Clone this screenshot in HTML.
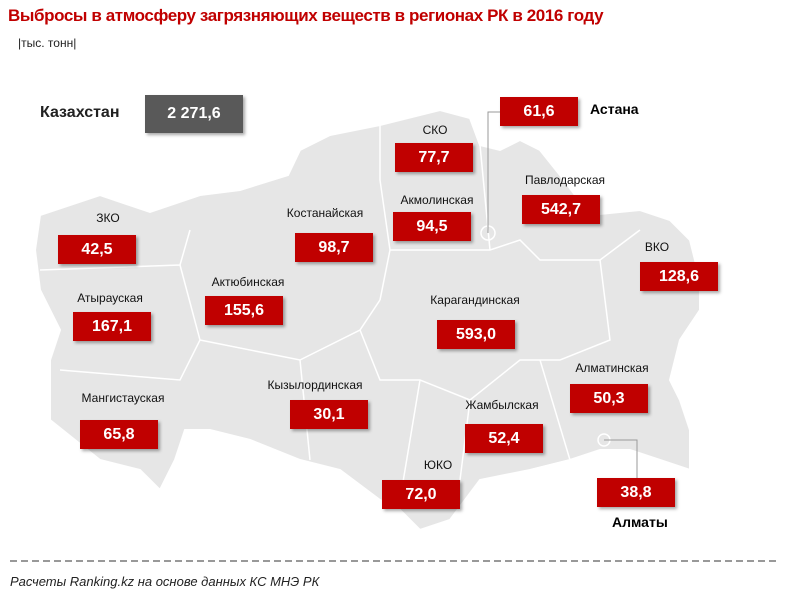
<!DOCTYPE html><html><head><meta charset="utf-8"><style>
body{margin:0;width:800px;height:606px;background:#fff;position:relative;overflow:hidden;font-family:"Liberation Sans",sans-serif}
.t{position:absolute;font-size:12px;color:#111;white-space:nowrap;transform:translateX(-50%)}
.b{position:absolute;width:78px;height:29px;background:#c00000;color:#fff;font-weight:bold;font-size:16px;line-height:29px;text-align:center;box-shadow:2px 2px 3px rgba(0,0,0,.35)}
</style></head><body>
<div style="position:absolute;left:8px;top:6px;color:#c00000;font-weight:bold;font-size:17px;letter-spacing:-0.4px">Выбросы в атмосферу загрязняющих веществ в регионах РК в 2016 году</div>
<div style="position:absolute;left:18px;top:36px;font-size:12px;color:#222">|тыс. тонн|</div>
<svg width="800" height="606" style="position:absolute;left:0;top:0">
<polygon fill="#e6e6e6" stroke="#fff" stroke-width="2" points="40,215 100,195 150,212 200,195 240,190 288,175 300,150 330,135 380,125 440,110 470,118 480,145 500,150 520,140 540,150 560,175 590,215 640,210 670,220 690,240 700,280 700,310 680,340 670,380 680,400 690,430 690,470 660,460 630,450 600,450 570,460 530,470 480,480 450,520 420,530 400,510 380,500 340,470 300,460 250,440 210,430 185,430 175,460 160,490 140,470 100,460 50,420 50,380 50,360 60,330 40,290 35,250"/>
<g stroke="#fff" stroke-width="1.5" fill="none">
<path d="M40,270 L180,265 L190,230"/><path d="M180,265 L200,340 L180,380 L60,370"/><path d="M200,340 L300,360 L360,330 L380,300"/><path d="M300,360 L310,460"/><path d="M380,300 L390,250 L380,180 L380,125"/><path d="M390,250 L490,250 L520,240 L540,260 L600,260 L640,230"/><path d="M600,260 L610,340 L560,360 L520,360 L470,400 L420,380 L380,380 L360,330"/><path d="M470,400 L460,480"/><path d="M420,380 L400,500"/><path d="M490,250 L480,145"/><path d="M540,360 L570,460"/>
</g>
<circle cx="488" cy="233" r="7" fill="none" stroke="#fff" stroke-width="1.5"/>
<circle cx="604" cy="440" r="6" fill="none" stroke="#fff" stroke-width="1.5"/>
<polyline points="488,233 488,112 500,112" fill="none" stroke="#999" stroke-width="1"/>
<polyline points="604,440 637,440 637,478" fill="none" stroke="#999" stroke-width="1"/>
<line x1="10" y1="561" x2="780" y2="561" stroke="#333" stroke-dasharray="7,4" stroke-width="1"/>
</svg>
<div style="position:absolute;left:40px;top:104px;font-weight:bold;font-size:16px;color:#222">Казахстан</div>
<div class="b" style="left:145px;top:95px;width:98px;height:38px;line-height:38px;background:#595959">2 271,6</div>
<div class="b" style="left:500px;top:97px">61,6</div><div style="position:absolute;left:590px;top:101px;font-weight:bold;font-size:14px">Астана</div>
<div class="t" style="left:435px;top:123px">СКО</div><div class="b" style="left:395px;top:143px">77,7</div>
<div class="t" style="left:565px;top:173px">Павлодарская</div><div class="b" style="left:522px;top:195px">542,7</div>
<div class="t" style="left:437px;top:193px">Акмолинская</div><div class="b" style="left:393px;top:212px">94,5</div>
<div class="t" style="left:325px;top:206px">Костанайская</div><div class="b" style="left:295px;top:233px">98,7</div>
<div class="t" style="left:108px;top:211px">ЗКО</div><div class="b" style="left:58px;top:235px">42,5</div>
<div class="t" style="left:657px;top:240px">ВКО</div><div class="b" style="left:640px;top:262px">128,6</div>
<div class="t" style="left:110px;top:291px">Атырауская</div><div class="b" style="left:73px;top:312px">167,1</div>
<div class="t" style="left:248px;top:275px">Актюбинская</div><div class="b" style="left:205px;top:296px">155,6</div>
<div class="t" style="left:475px;top:293px">Карагандинская</div><div class="b" style="left:437px;top:320px">593,0</div>
<div class="t" style="left:612px;top:361px">Алматинская</div><div class="b" style="left:570px;top:384px">50,3</div>
<div class="t" style="left:315px;top:378px">Кызылординская</div><div class="b" style="left:290px;top:400px">30,1</div>
<div class="t" style="left:123px;top:391px">Мангистауская</div><div class="b" style="left:80px;top:420px">65,8</div>
<div class="t" style="left:502px;top:398px">Жамбылская</div><div class="b" style="left:465px;top:424px">52,4</div>
<div class="t" style="left:438px;top:458px">ЮКО</div><div class="b" style="left:382px;top:480px">72,0</div>
<div class="b" style="left:597px;top:478px">38,8</div><div style="position:absolute;left:612px;top:514px;font-weight:bold;font-size:14px">Алматы</div>
<div style="position:absolute;left:10px;top:574px;font-style:italic;font-size:13px;color:#222">Расчеты Ranking.kz на основе данных КС МНЭ РК</div>
</body></html>
